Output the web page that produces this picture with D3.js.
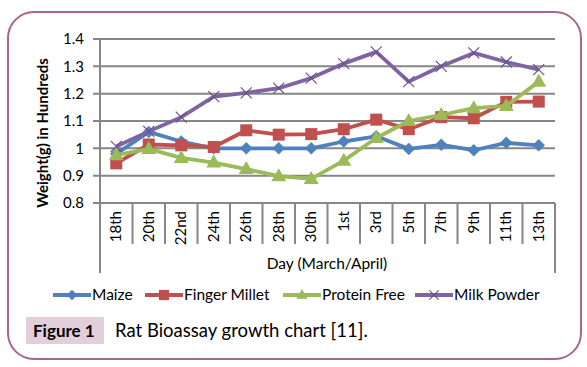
<!DOCTYPE html>
<html><head><meta charset="utf-8">
<script src="https://cdn.jsdelivr.net/npm/d3@7"></script>
<style>html,body{margin:0;padding:0;background:#fff;} text{font-family:Lato,"Open Sans",sans-serif;}</style>
</head><body><svg id="c" width="587" height="367"></svg>
<script>
const categories = ["18th","20th","22nd","24th","26th","28th","30th","1st","3rd","5th","7th","9th","11th","13th"];
const maize        = [0.98,1.06,1.025,1.0,1.0,1.0,1.0,1.025,1.044,0.998,1.013,0.993,1.02,1.011];
const fingerMillet = [0.945,1.014,1.011,1.005,1.066,1.05,1.052,1.07,1.105,1.07,1.114,1.11,1.17,1.171];
const proteinFree  = [0.975,0.998,0.965,0.948,0.924,0.898,0.888,0.955,1.038,1.1,1.122,1.147,1.155,1.244];
const milkPowder   = [1.007,1.062,1.114,1.189,1.203,1.22,1.257,1.31,1.353,1.244,1.3,1.349,1.316,1.288];
const yTicks = [0.8,0.9,1.0,1.1,1.2,1.3,1.4];
const seriesNames = ["Maize","Finger Millet","Protein Free","Milk Powder"];
const colors = ["#4f81bd","#c0504d","#9bbb59","#8064a2"];
const markers = ["diamond","square","triangle","x"];

const svg = d3.select("#c");
// outer rounded border
svg.append("rect").attr("x",8).attr("y",12).attr("width",573).attr("height",347)
  .attr("rx",26).attr("ry",26).attr("fill","none").attr("stroke","#a8658f").attr("stroke-width",2);

const L=100,R=555,T=39,B=203;
const x = d3.scaleBand().domain(categories).range([L,R]);
const y = d3.scaleLinear().domain([0.8,1.4]).range([B,T]);
const grid="#878787";

// gridlines
svg.append("g").selectAll("line").data(yTicks).join("line")
  .attr("x1",L-7).attr("x2",R).attr("y1",d=>y(d)).attr("y2",d=>y(d))
  .attr("stroke",grid).attr("stroke-width",2);
// y axis line
svg.append("line").attr("x1",L).attr("x2",L).attr("y1",T).attr("y2",273).attr("stroke",grid).attr("stroke-width",2);
svg.append("line").attr("x1",R).attr("x2",R).attr("y1",B).attr("y2",273).attr("stroke",grid).attr("stroke-width",2);
// category dividers
svg.append("g").selectAll("line").data(categories.slice(1)).join("line")
  .attr("x1",d=>x(d)).attr("x2",d=>x(d)).attr("y1",B).attr("y2",244)
  .attr("stroke",grid).attr("stroke-width",2);
// y tick labels
svg.append("g").selectAll("text").data(yTicks).join("text")
  .attr("x",84).attr("y",d=>y(d)).attr("dy","0.35em").attr("text-anchor","end")
  .attr("font-size",15).attr("fill","#000").text(d=>d===1?"1":d3.format(".1f")(d));
// x tick labels
svg.append("g").selectAll("text").data(categories).join("text")
  .attr("transform",d=>`translate(${x(d)+x.bandwidth()/2+5},211) rotate(-90)`)
  .attr("text-anchor","end").attr("font-size",15).attr("fill","#000").text(d=>d);
// axis titles
svg.append("text").attr("transform",`translate(48,133) rotate(-90)`).attr("text-anchor","middle")
  .attr("font-size",15).attr("font-weight","bold").attr("fill","#000").text("Weight(g) in Hundreds");
svg.append("text").attr("x",327).attr("y",269).attr("text-anchor","middle")
  .attr("font-size",15.5).attr("fill","#000").text("Day (March/April)");

function drawMarker(g, type, cx, cy, color, scale){
  const s = scale||1;
  if(type==="diamond"){
    g.append("path").attr("d",`M${cx},${cy-6*s}L${cx+6*s},${cy}L${cx},${cy+6*s}L${cx-6*s},${cy}Z`).attr("fill",color).attr("stroke",color).attr("stroke-width",0.5);
  } else if(type==="square"){
    g.append("rect").attr("x",cx-6*s).attr("y",cy-6*s).attr("width",12*s).attr("height",12*s).attr("fill",color);
  } else if(type==="triangle"){
    g.append("path").attr("d",`M${cx},${cy-8*s}L${cx+7.5*s},${cy+5*s}L${cx-7.5*s},${cy+5*s}Z`).attr("fill",color);
  } else {
    g.append("path").attr("d",`M${cx-5.5*s},${cy-5.5*s}L${cx+5.5*s},${cy+5.5*s}M${cx-5.5*s},${cy+5.5*s}L${cx+5.5*s},${cy-5.5*s}`)
      .attr("stroke","#6a5090").attr("stroke-width",1.2).attr("fill","none");
  }
}

const allSeries=[maize,fingerMillet,proteinFree,milkPowder];
const line = d3.line().x((d,i)=>x(categories[i])+x.bandwidth()/2).y(d=>y(d));
allSeries.forEach((vals,si)=>{
  const g = svg.append("g");
  g.append("path").datum(vals).attr("d",line).attr("fill","none").attr("stroke",colors[si])
    .attr("stroke-width",3.8).attr("stroke-linejoin","round");
  vals.forEach((v,i)=>drawMarker(g,markers[si],x(categories[i])+x.bandwidth()/2,y(v),colors[si]));
});

// legend
const legendX=[53,145,283,415];
seriesNames.forEach((n,i)=>{
  const g=svg.append("g");
  const lx=legendX[i], ly=295;
  g.append("line").attr("x1",lx).attr("x2",lx+38).attr("y1",ly).attr("y2",ly).attr("stroke",colors[i]).attr("stroke-width",3.8);
  drawMarker(g,markers[i],lx+19,ly,colors[i],i===2?0.75:0.85);
  g.append("text").attr("x",lx+39).attr("y",ly).attr("dy","0.35em").attr("font-size",15.5).attr("fill","#000").text(n);
});

// caption
svg.append("rect").attr("x",26).attr("y",317).attr("width",78).attr("height",27).attr("fill","#e3cedb");
svg.append("text").attr("x",33).attr("y",331).attr("dy","0.35em").attr("font-size",17).attr("font-weight","bold").attr("fill","#000").text("Figure 1");
svg.append("text").attr("x",115).attr("y",331).attr("dy","0.35em").attr("font-size",18.5).attr("fill","#000").text("Rat Bioassay growth chart [11].");
</script></body></html>
